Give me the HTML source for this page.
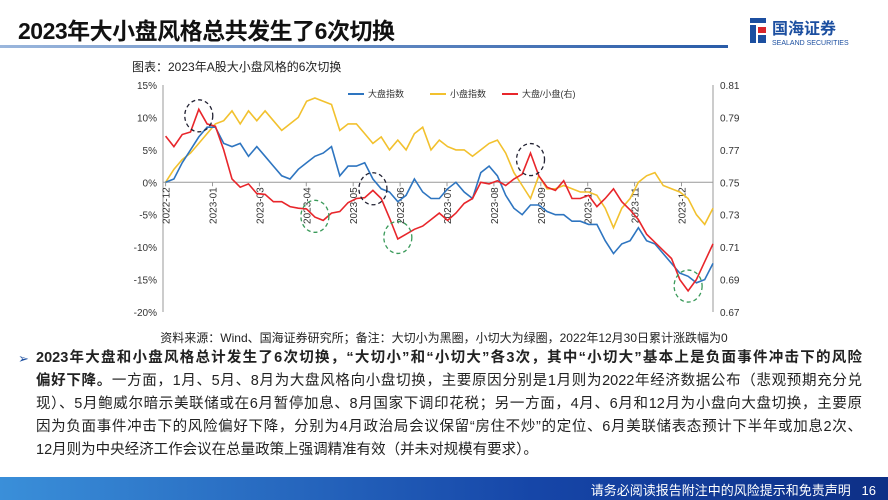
<!DOCTYPE html>
<html><head><meta charset="utf-8"><style>
body{margin:0;width:888px;height:500px;overflow:hidden;background:#fff;font-family:"Liberation Sans","Noto Sans CJK SC",sans-serif;position:relative}
.abs{position:absolute}
#title{left:18px;top:12px;font-size:23px;font-weight:bold;color:#111;letter-spacing:-0.5px}
#rule{left:0;top:45px;width:728px;height:3px;background:linear-gradient(90deg,#9ab6dc,#2a5ca8)}
#logo{left:748px;top:14px}
#body{left:36px;top:347px;width:826px;font-size:14.5px;line-height:23px;color:#222}
#body div{white-space:nowrap;text-align:justify;text-align-last:justify;overflow:visible}
#body div.last{text-align-last:left}
#bullet{left:18px;top:347px;font-size:13px;line-height:23px;color:#1c4fa0}
#footer{left:0;top:477px;width:888px;height:23px;background:linear-gradient(90deg,#3a8fd9,#1646a8 60%,#0d2f86)}
</style></head><body>
<div id="title" class="abs">2023年大小盘风格总共发生了6次切换</div>
<div id="rule" class="abs"></div>
<div id="logo" class="abs">
 <svg width="130" height="34"><rect x="2" y="4" width="16" height="5" fill="#1c4fa0"/><rect x="2" y="11" width="6" height="18" fill="#1c4fa0"/><rect x="10" y="13" width="8" height="6" fill="#d9262b"/><rect x="10" y="21" width="8" height="8" fill="#1c4fa0"/>
 <text x="24" y="20" font-size="16" fill="#1c4fa0" font-weight="bold" font-family="Liberation Sans,Noto Sans CJK SC,sans-serif">国海证券</text>
 <text x="24" y="31" font-size="7" fill="#1c4fa0" font-family="Liberation Sans,sans-serif">SEALAND SECURITIES</text></svg>
</div>
<svg class="abs" style="left:0;top:0" width="888" height="345" id="chart"></svg>
<div id="bullet" class="abs">➢</div>
<div id="body" class="abs">
<div><b>2023年大盘和小盘风格总计发生了6次切换，“大切小”和“小切大”各3次，其中“小切大”基本上是负面事件冲击下的风险</b></div>
<div><b>偏好下降。</b>一方面，1月、5月、8月为大盘风格向小盘切换，主要原因分别是1月则为2022年经济数据公布（悲观预期充分兑</div>
<div>现）、5月鲍威尔暗示美联储或在6月暂停加息、8月国家下调印花税；另一方面，4月、6月和12月为小盘向大盘切换，主要原</div>
<div>因为负面事件冲击下的风险偏好下降，分别为4月政治局会议保留“房住不炒”的定位、6月美联储表态预计下半年或加息2次、</div>
<div class="last">12月则为中央经济工作会议在总量政策上强调精准有效（并未对规模有要求）。</div>
</div>
<div id="footer" class="abs"><span style="position:absolute;right:12px;top:3px;color:#fff;font-size:13px">请务必阅读报告附注中的风险提示和免责声明 &nbsp; 16</span></div>
<script>
const monthLabels=["2022-12","2023-01","2023-03","2023-04","2023-05","2023-06","2023-07","2023-08","2023-09","2023-10","2023-11","2023-12"];
const monthPos=[0,1,2,3,4,5,6,7,8,9,10,11];
const leftTicks=[15,10,5,0,-5,-10,-15,-20];
const rightTicks=[0.81,0.79,0.77,0.75,0.73,0.71,0.69,0.67];
const bigIndex=[0,0.5,3,5,7,8.5,8.5,6,5.5,6,4,5.5,4,2.5,1,0.5,2,3,4,4.5,5.5,1,2.5,2.5,3,0.5,-1,-1.5,-3,-2,0.5,-1.5,-2.5,-2.5,-1,0,-1.5,-2.5,1.5,2.5,1,-2,-4,-5,-3.5,-3.5,-4.5,-5,-5,-6,-6,-6.5,-6.5,-9,-11,-9.5,-9,-7,-9,-9.5,-11,-12.5,-14,-14.5,-15.5,-15,-12.5];
const smallIndex=[0,2,3.5,4.5,6,7.5,9,9.5,11,9,11,9.5,11,9.5,8,9,10,12.5,13,12.5,12,8,9,9,7.5,6,7,5,6.5,5,7.5,8.5,5,6.5,5.5,5,5,4,5,6,6.5,4.5,1.5,-0.5,-2.5,1,-1,-1,-0.5,-1,-1.5,-1.5,-2,-4,-7,-4,-2.5,0,1,1.5,-0.5,-1,-1.5,-2.5,-5,-6.5,-4];
const ratio=[0.7785,0.772,0.7795,0.781,0.795,0.786,0.7845,0.770,0.752,0.747,0.749,0.743,0.7425,0.738,0.738,0.735,0.734,0.7335,0.7285,0.7265,0.731,0.732,0.7375,0.740,0.7405,0.745,0.740,0.728,0.715,0.718,0.721,0.723,0.727,0.731,0.7265,0.731,0.737,0.740,0.750,0.749,0.751,0.748,0.752,0.755,0.768,0.754,0.747,0.745,0.751,0.740,0.740,0.742,0.735,0.740,0.746,0.738,0.733,0.727,0.718,0.713,0.708,0.703,0.690,0.683,0.690,0.701,0.712];
const NS="http://www.w3.org/2000/svg",svg=document.getElementById('chart');
const X0=165.6,X1=713,Y0=85,Y1=312;
const xi=i=>X0+i*(X1-X0)/66;
const xm=m=>X0+m*46.9;
const yl=v=>Y0+(15-v)*(Y1-Y0)/35;
const yr=v=>Y0+(0.81-v)*(Y1-Y0)/0.14;
function mk(t,a,p){const e=document.createElementNS(NS,t);for(const k in a)e.setAttribute(k,a[k]);(p||svg).appendChild(e);return e;}
const cap=mk('text',{x:132,y:71,'font-size':12,fill:'#222'});cap.textContent='图表：2023年A股大小盘风格的6次切换';


const src=mk('text',{x:444,y:342,'font-size':12,fill:'#222','text-anchor':'middle'});src.textContent='资料来源：Wind、国海证券研究所；备注：大切小为黑圈，小切大为绿圈，2022年12月30日累计涨跌幅为0';


mk('line',{x1:163,y1:Y0,x2:163,y2:Y1,stroke:'#999'});
mk('line',{x1:X1,y1:Y0,x2:X1,y2:Y1,stroke:'#999'});
mk('line',{x1:163,y1:yl(0),x2:X1,y2:yl(0),stroke:'#999'});
leftTicks.forEach(v=>{const t=mk('text',{x:157,y:yl(v)+4,'font-size':10,fill:'#333','text-anchor':'end'});t.textContent=v+'%';

});
rightTicks.forEach(v=>{const t=mk('text',{x:720,y:yr(v)+4,'font-size':10,fill:'#333'});t.textContent=v.toFixed(2);

});
monthLabels.forEach((l,k)=>{const x=xm(monthPos[k]);mk('line',{x1:x,y1:yl(0),x2:x,y2:yl(0)+4,stroke:'#999'});
const t=mk('text',{x:x+4,y:yl(0)+5,'font-size':10,fill:'#333','text-anchor':'end',transform:`rotate(-90 ${x+4} ${yl(0)+5})`});t.textContent=l;

});
function line(arr,fy,c,name){const d=arr.map((v,i)=>(i?'L':'M')+xi(i).toFixed(1)+' '+fy(v).toFixed(1)).join('');
const p=mk('path',{d:d,fill:'none',stroke:c,'stroke-width':1.6});

}
line(smallIndex,yl,'#f2c12e','small-cap-line');
line(bigIndex,yl,'#2e75c0','large-cap-line');
line(ratio,yr,'#e8262b','ratio-line');
const circles=[[4,0.791,'#223'],[25,0.746,'#223'],[44,0.764,'#223'],[18,0.729,'#3a9a5a'],[28,0.716,'#3a9a5a'],[63,0.686,'#3a9a5a']];
circles.forEach(c=>{const e=mk('ellipse',{cx:xi(c[0]),cy:yr(c[1]),rx:14,ry:16,fill:'none',stroke:c[2],'stroke-dasharray':'4 3','stroke-width':1.3});

});
[['大盘指数','#2e75c0',348],['小盘指数','#f2c12e',430],['大盘/小盘(右)','#e8262b',502]].forEach(l=>{
const g=mk('g',{});


mk('line',{x1:l[2],y1:94,x2:l[2]+16,y2:94,stroke:l[1],'stroke-width':2},g);
const t=mk('text',{x:l[2]+20,y:97,'font-size':9,fill:'#333'},g);t.textContent=l[0];});
</script>
</body></html>
